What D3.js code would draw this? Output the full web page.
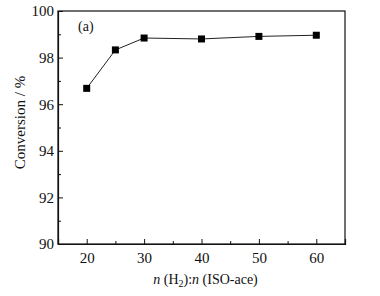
<!DOCTYPE html>
<html>
<head>
<meta charset="utf-8">
<script src="https://cdn.jsdelivr.net/npm/d3@7"></script>
<style>
  html, body { margin: 0; padding: 0; background: #fff; overflow: hidden; }
  svg { display: block; }
</style>
</head>
<body>
<div id="chart"></div>
<script>
// Data
const ratios = [20, 25, 30, 40, 50, 60];
const conversion = [96.68, 98.33, 98.84, 98.80, 98.91, 98.96];
const xTicks = [20, 30, 40, 50, 60];
const yTicks = [90, 92, 94, 96, 98, 100];
const xMinor = [25, 35, 45, 55];
const yMinor = [91, 93, 95, 97, 99];

const width = 380, height = 296;
const margin = { top: 11, right: 35, bottom: 52, left: 58 };
const innerWidth = width - margin.left - margin.right;
const innerHeight = height - margin.top - margin.bottom;
const serif = "'Liberation Serif', 'Times New Roman', serif";

const svg = d3.select("#chart").append("svg")
  .attr("width", width)
  .attr("height", height)
  .attr("font-family", serif);

const g = svg.append("g")
  .attr("transform", `translate(${margin.left}, ${margin.top})`);

// Scales
const x = d3.scaleLinear().domain([15, 65]).range([0, innerWidth]);
const y = d3.scaleLinear().domain([90, 100]).range([innerHeight, 0]);

// Frame
g.append("rect")
  .attr("width", innerWidth)
  .attr("height", innerHeight)
  .attr("fill", "none")
  .attr("stroke", "#111")
  .attr("stroke-width", 1.2);

// X axis: ticks point inward, minor ticks every 5
g.append("g")
  .attr("transform", `translate(0, ${innerHeight})`)
  .call(d3.axisBottom(x).tickValues(xTicks).tickSize(-5).tickPadding(8).tickFormat(d3.format("d")))
  .attr("font-family", serif)
  .attr("font-size", 15);
g.append("g")
  .attr("transform", `translate(0, ${innerHeight})`)
  .call(d3.axisBottom(x).tickValues(xMinor).tickSize(-3).tickFormat(""))
  .call(a => a.select(".domain").remove())
  .call(a => a.selectAll("text").remove());

// Y axis
g.append("g")
  .call(d3.axisLeft(y).tickValues(yTicks).tickSize(-5).tickPadding(4).tickFormat(d3.format("d")))
  .attr("font-family", serif)
  .attr("font-size", 15);
g.append("g")
  .call(d3.axisLeft(y).tickValues(yMinor).tickSize(-3).tickFormat(""))
  .call(a => a.select(".domain").remove())
  .call(a => a.selectAll("text").remove());

g.selectAll(".domain").attr("stroke", "#111").attr("stroke-width", 1.2);
g.selectAll(".tick line").attr("stroke", "#111");
g.selectAll(".tick text").attr("fill", "#111");

// Line
const pts = ratios.map((r, i) => ({ r, v: conversion[i] }));
g.append("path")
  .datum(pts)
  .attr("fill", "none")
  .attr("stroke", "#222")
  .attr("stroke-width", 1)
  .attr("d", d3.line().x(d => x(d.r)).y(d => y(d.v)));

// Square markers
const s = 7;
g.selectAll(".pt")
  .data(pts)
  .enter()
  .append("rect")
  .attr("class", "pt")
  .attr("x", d => x(d.r) - s / 2)
  .attr("y", d => y(d.v) - s / 2)
  .attr("width", s)
  .attr("height", s)
  .attr("fill", "#000");

// Panel label
g.append("text")
  .attr("x", 20)
  .attr("y", 20)
  .attr("font-size", 14)
  .attr("fill", "#111")
  .text("(a)");

// Y axis title
svg.append("text")
  .attr("transform", `translate(25, ${margin.top + innerHeight / 2 - 5}) rotate(-90)`)
  .attr("text-anchor", "middle")
  .attr("font-size", 15)
  .attr("fill", "#111")
  .text("Conversion / %");

// X axis title
const xt = svg.append("text")
  .attr("x", margin.left + innerWidth / 2 + 4)
  .attr("y", 284)
  .attr("text-anchor", "middle")
  .attr("font-size", 14)
  .attr("fill", "#111");
xt.append("tspan").attr("font-style", "italic").text("n");
xt.append("tspan").text(" (H");
xt.append("tspan").attr("dy", 3).attr("font-size", 10).text("2");
xt.append("tspan").attr("dy", -3).text("):");
xt.append("tspan").attr("font-style", "italic").text("n");
xt.append("tspan").text(" (ISO-ace)");
</script>
</body>
</html>
